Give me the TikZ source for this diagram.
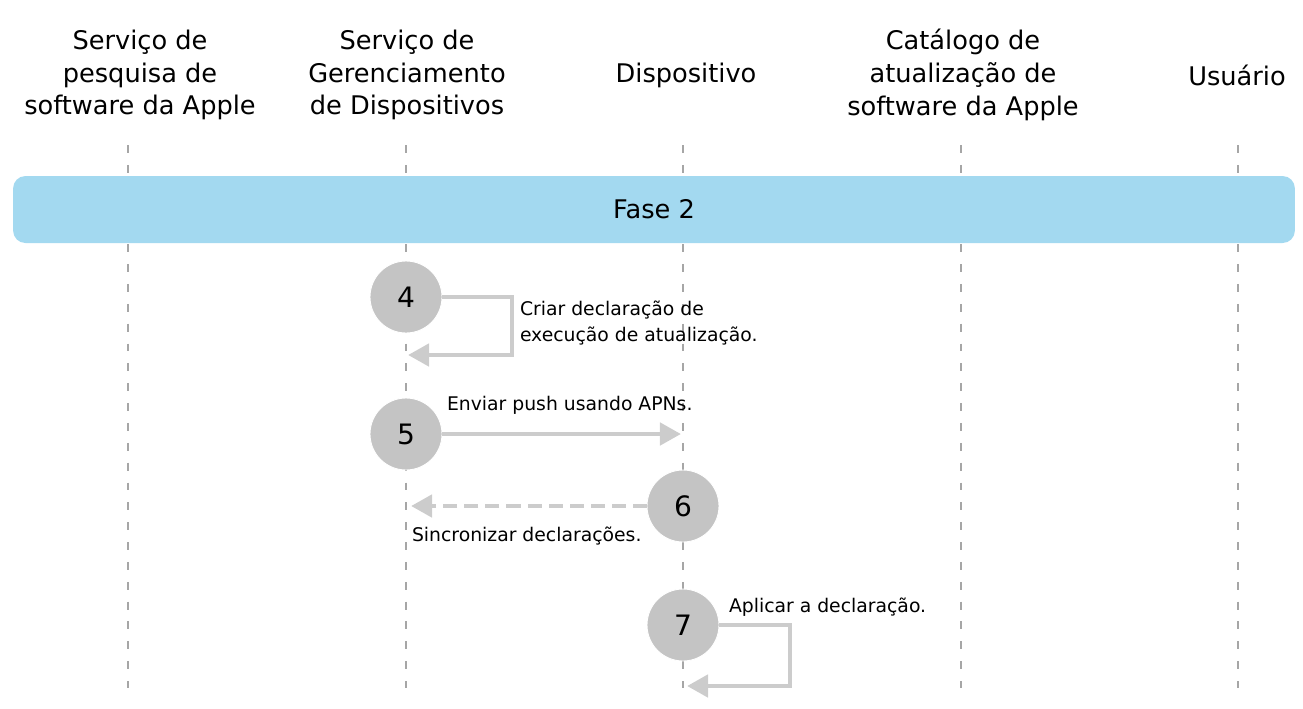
\documentclass[tikz,border=0pt]{standalone}
\usepackage{fontspec}
\setmainfont{DejaVu Sans}
\usetikzlibrary{arrows.meta}

\definecolor{phaseblue}{HTML}{A3D9F0}
\definecolor{stepgray}{HTML}{C4C4C4}
\definecolor{arrowgray}{HTML}{CCCCCC}
\definecolor{lifegray}{HTML}{A6A6A6}

\begin{document}
\begin{tikzpicture}[
        x = 0.02cm, y = -0.02cm,
        outer sep = 0mm, inner sep = 0mm,
        head/.style = {
          align = center, font = \fontsize{14.6}{18.7}\selectfont,
        },
        lifeline/.style = {
          draw = lifegray, line width = .8pt, dash pattern = on 4.5pt off 6.8pt,
        },
        stepnum/.style = {
          circle, fill = stepgray, draw = white, line width = .5pt,
          minimum size = 1.44cm, font = \fontsize{16}{19}\selectfont,
        },
        msg/.style = {
          draw = arrowgray, line width = 2.8pt,
          -{Triangle[length = 12pt, width = 12.5pt]},
        },
        note/.style = {
          align = left, anchor = west, font = \fontsize{10.7}{15.3}\selectfont,
        }
      ]

      \useasboundingbox (0,0) rectangle (1303,708);

      % lifelines
      \foreach \x in {128,406,683,961,1238}
        \draw[lifeline] (\x,145) -- (\x,688);

      \node[head] (hsearch) at (140,75) {Serviço de\\pesquisa de\\software da Apple};
      \node[head] (hmdm) at (407,75) {Serviço de\\Gerenciamento\\de Dispositivos};
      \node[head] (hdev) at (686,75) {Dispositivo};
      \node[head] (hcat) at (963,75) {Catálogo de\\atualização de\\software da Apple};
      \node[head] (huser) at (1237,75) {Usuário};

      \node[fill = phaseblue, rounded corners = 7pt,
        minimum width = 25.64cm, minimum height = 1.34cm,
        font = \fontsize{14.6}{17}\selectfont] (phase) at (654,209.5) {Fase 2};

      \node[stepnum] (s4) at (406,297) {4};
      \node[stepnum] (s5) at (406,434) {5};
      \node[stepnum] (s6) at (683,506) {6};
      \node[stepnum] (s7) at (683,625) {7};

      \coordinate (e4) at (408,355);
      \coordinate (e5) at (681,434);
      \coordinate (e6) at (411,506);
      \coordinate (e7) at (687,686);

      \draw[msg] (s4.east) -- ++(70,0) |- (e4);
      \draw[msg] (s5) -- (e5);
      \draw[msg, dash pattern = on 8pt off 4pt] (s6) -- (e6);
      \draw[msg] (s7.east) -- ++(71,0) |- (e7);

      \node[note] (t4) at (520,323) {Criar declaração de\\execução de atualização.};
      \node[note] (t5) at (447,405) {Enviar push usando APNs.};
      \node[note] (t6) at (412,536) {Sincronizar declarações.};
      \node[note] (t7) at (729,607) {Aplicar a declaração.};
    \end{tikzpicture}
\end{document}
